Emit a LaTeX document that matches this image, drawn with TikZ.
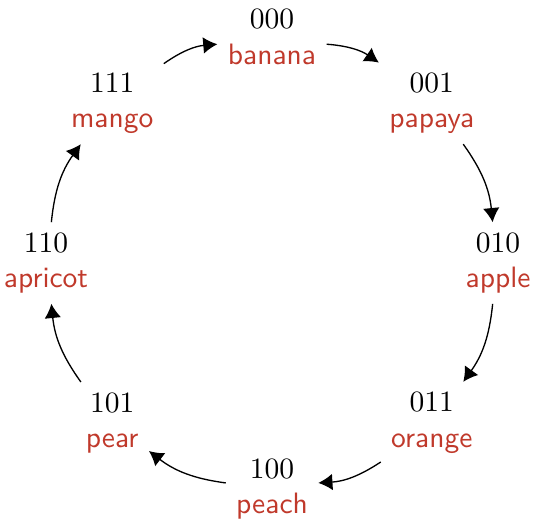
\documentclass[tikz,border=0pt]{standalone}
\usetikzlibrary{arrows.meta}
\definecolor{fruitred}{RGB}{192,57,43}
\begin{document}
\begin{tikzpicture}[x=0.339pt,y=0.339pt,
  state/.style={align=center,font=\normalsize},
  conn/.style={-{Latex[length=4.8pt,width=5.6pt]},line width=0.45pt,bend left=15}]
\useasboundingbox (0,0) rectangle (533,519);
\newcommand{\fr}[1]{\textcolor{fruitred}{\sffamily #1}}
\begin{scope}[shift={(272,256)}]
\node[state] (n0) at (90:226)  {000\\\fr{banana}};
\node[state] (n1) at (45:226)  {001\\\fr{papaya}};
\node[state] (n2) at (0:226)   {010\\\fr{apple}};
\node[state] (n3) at (-45:226) {011\\\fr{orange}};
\node[state] (n4) at (-90:226) {100\\\fr{peach}};
\node[state] (n5) at (-135:226){101\\\fr{pear}};
\node[state] (n6) at (180:226) {110\\\fr{apricot}};
\node[state] (n7) at (135:226) {111\\\fr{mango}};
\end{scope}
\draw[conn] (n7) to (n0);
\draw[conn] (n0) to (n1);
\draw[conn] (n1) to (n2);
\draw[conn] (n2) to (n3);
\draw[conn] (n3) to (n4);
\draw[conn] (n4) to (n5);
\draw[conn] (n5) to (n6);
\draw[conn] (n6) to (n7);
\end{tikzpicture}
\end{document}
